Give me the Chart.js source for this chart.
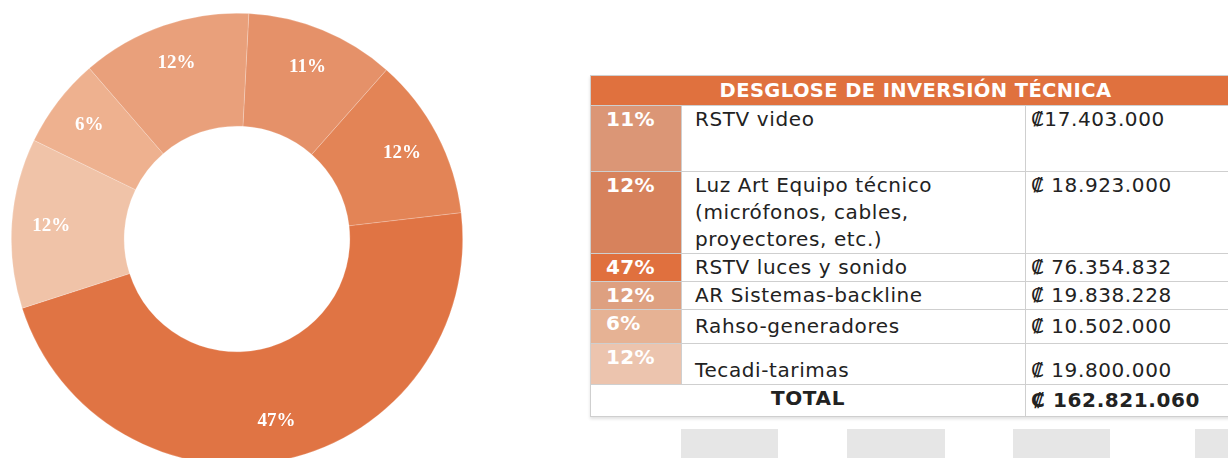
<!DOCTYPE html>
<html>
<head>
<meta charset="utf-8">
<script src="https://cdn.jsdelivr.net/npm/chart.js"></script>
<style>
  html, body { margin:0; padding:0; width:1228px; height:458px; overflow:hidden; background:#fff; }
  #pie { position:absolute; left:11px; top:13px; width:452px; height:452px; }
  #tbl { position:absolute; left:590px; top:75px; width:650px; border-collapse:collapse; table-layout:fixed;
         font-family:"DejaVu Sans", sans-serif; font-size:20px; letter-spacing:0.6px; color:#222; box-shadow:0 2px 3px rgba(0,0,0,0.12); }
  #tbl td { border:1.5px solid #cfcfcf; padding:0 0 0 13px; line-height:27px; vertical-align:top; overflow:hidden; white-space:nowrap; }
  #tbl td.pct { color:#fff; font-weight:bold; padding-left:15px; letter-spacing:0.3px; }
  #tbl td.head { background:#e0713e; color:#fff; font-weight:bold; text-align:center; padding:0; vertical-align:middle; font-size:19.5px; letter-spacing:0.4px; }
  #tbl td.amt { padding-left:5px; }
  .box { position:absolute; top:429px; height:40px; background:#e6e6e6; }
</style>
</head>
<body>
<div id="pie"><canvas id="c"></canvas></div>
<table id="tbl"></table>
<div class="box" style="left:681px;width:97px"></div>
<div class="box" style="left:847px;width:98px"></div>
<div class="box" style="left:1013px;width:97px"></div>
<div class="box" style="left:1195px;width:40px"></div>
<script>
// Datos del gráfico (orden horario, desde arriba)
var pieNames = ["RSTV video", "Luz Art Equipo técnico", "RSTV luces y sonido", "Tecadi-tarimas", "Rahso-generadores", "AR Sistemas-backline"];
var pieValues = [17403000, 18923000, 76354832, 19800000, 10502000, 19838228];
var pieLabels = ["11%", "12%", "47%", "12%", "6%", "12%"];
var pieColors = ["#e59169", "#e38456", "#e07444", "#f0c3a8", "#eeb18f", "#e9a07b"];

// Datos de la tabla
var rowPct = ["11%", "12%", "47%", "12%", "6%", "12%"];
var rowNames = ["RSTV video", "Luz Art Equipo técnico<br>(micrófonos, cables,<br>proyectores, etc.)", "RSTV luces y sonido", "AR Sistemas-backline", "Rahso-generadores", "Tecadi-tarimas"];
var rowAmounts = ["₡17.403.000", "₡ 18.923.000", "₡ 76.354.832", "₡ 19.838.228", "₡ 10.502.000", "₡ 19.800.000"];
var rowColors = ["#db9676", "#d7825c", "#e0703e", "#dea080", "#e6b294", "#ecc4ae"];
var totalAmount = "₡ 162.821.060";

// Estilo de filas
var rowHeights = [66, 82, 28, 27, 34, 41];
var rowAlign = [["top","top"], ["top","top"], ["middle","middle"], ["middle","middle"], ["top","middle"], ["top","bottom"]];

var h = "<colgroup><col style='width:91px'><col style='width:344px'><col style='width:215px'></colgroup>";
h += "<tr style='height:30px'><td class='head' colspan='3'>DESGLOSE DE INVERSIÓN TÉCNICA</td></tr>";
for (var i = 0; i < rowPct.length; i++) {
  h += "<tr style='height:" + rowHeights[i] + "px'>";
  h += "<td class='pct' style='background:" + rowColors[i] + ";vertical-align:" + rowAlign[i][0] + "'>" + rowPct[i] + "</td>";
  h += "<td style='vertical-align:" + rowAlign[i][1] + "'>" + rowNames[i] + "</td>";
  h += "<td class='amt' style='vertical-align:" + rowAlign[i][1] + "'>" + rowAmounts[i] + "</td>";
  h += "</tr>";
}
h += "<tr style='height:32px'><td colspan='2' style='text-align:center;font-weight:bold;padding:0'>TOTAL</td>";
h += "<td class='amt' style='font-weight:bold;vertical-align:middle'>" + totalAmount + "</td></tr>";
document.getElementById("tbl").innerHTML = h;

// Etiquetas dentro del anillo
var ringLabels = {
  id: "ringLabels",
  afterDatasetsDraw: function(chart) {
    var ctx = chart.ctx;
    var meta = chart.getDatasetMeta(0);
    ctx.save();
    ctx.fillStyle = "#fff";
    ctx.font = "bold 19px 'Liberation Serif', serif";
    ctx.textAlign = "center";
    ctx.textBaseline = "middle";
    meta.data.forEach(function(arc, i) {
      var p = arc.getProps(["x", "y", "startAngle", "endAngle", "innerRadius", "outerRadius"]);
      var a = (p.startAngle + p.endAngle) / 2;
      var r = p.innerRadius + 0.65 * (p.outerRadius - p.innerRadius);
      ctx.fillText(pieLabels[i], p.x + Math.cos(a) * r, p.y + Math.sin(a) * r);
    });
    ctx.restore();
  }
};

new Chart(document.getElementById("c"), {
  type: "doughnut",
  data: {
    labels: pieNames,
    datasets: [{ data: pieValues, backgroundColor: pieColors, borderWidth: 0.6, borderColor: "rgba(255,255,255,0.35)" }]
  },
  options: {
    responsive: true,
    maintainAspectRatio: false,
    animation: false,
    cutout: "50%",
    rotation: 3,
    layout: { padding: 0 },
    plugins: { legend: { display: false }, tooltip: { enabled: false } }
  },
  plugins: [ringLabels]
});
</script>
</body>
</html>
